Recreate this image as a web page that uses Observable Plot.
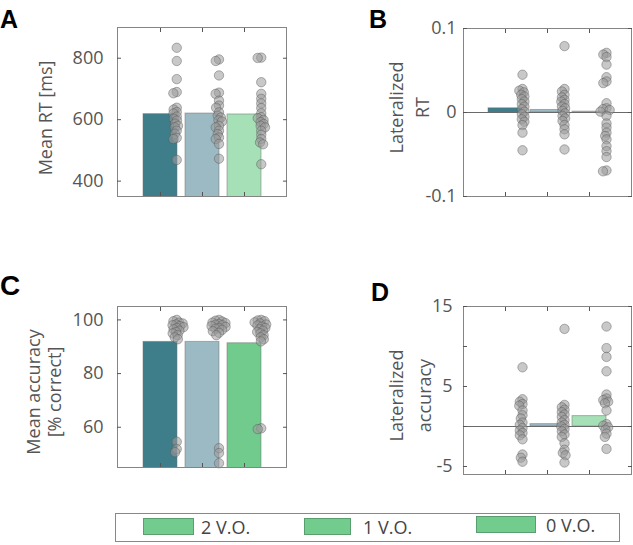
<!DOCTYPE html>
<html><head><meta charset="utf-8">
<script src="https://cdn.jsdelivr.net/npm/d3@7"></script>
<script src="https://cdn.jsdelivr.net/npm/@observablehq/plot@0.6"></script>
<style>
body{margin:0;background:#fff;font-family:"Open Sans",sans-serif;}
#fig{position:relative;width:633px;height:545px;overflow:hidden;background:#fff;}
.panel{position:absolute;}
.letter{position:absolute;font-family:"Liberation Sans",Arial,sans-serif;font-weight:bold;font-size:25px;line-height:1;color:#000;}
#legend{position:absolute;left:115px;top:513px;width:505px;height:29px;border:1px solid #888;box-sizing:border-box;}
.sw{position:absolute;height:17px;background:#72cc8e;border:1px solid #5a9e70;box-sizing:border-box;}
.lt{position:absolute;font-size:18px;color:#444;line-height:1;}
</style></head><body><div id="fig"></div>
<script>
const groups = ["2 V.O.", "1 V.O.", "0 V.O."];

// Panel A: mean RT [ms]
const rtMeans = [618, 620, 617];
const rt2VO = [834, 791, 732, 690, 686, 639, 633, 625, 620, 610, 603, 597, 587, 580, 575, 564, 554, 541, 537, 469];
const rt1VO = [796, 791, 744, 688, 684, 662, 646, 639, 624, 613, 607, 598, 594, 580, 575, 564, 553, 542, 537, 521, 473];
const rt0VO = [802, 801, 722, 684, 668, 653, 638, 621, 608, 605, 599, 592, 586, 580, 575, 564, 551, 537, 526, 520, 455];
const rtTicks = [400, 600, 800];

// Panel B: lateralized RT
const latRTMeans = [0.005, 0.003, 0.001];
const latRT2VO = [0.045, 0.028, 0.026, 0.024, 0.021, 0.019, 0.016, 0.013, 0.010, 0.007, 0.004, 0.001, -0.002, -0.005, -0.008, -0.011, -0.015, -0.024, -0.045];
const latRT1VO = [0.079, 0.028, 0.025, 0.021, 0.018, 0.015, 0.013, 0.010, 0.007, 0.005, 0.002, -0.001, -0.004, -0.007, -0.010, -0.015, -0.020, -0.026, -0.044];
const latRT0VO = [0.071, 0.069, 0.066, 0.057, 0.042, 0.037, 0.035, 0.011, 0.005, 0.004, 0.003, 0.001, -0.004, -0.013, -0.018, -0.024, -0.028, -0.032, -0.040, -0.046, -0.053, -0.069, -0.070];
const latRTTicks = [-0.1, 0, 0.1];

// Panel C: mean accuracy [% correct]
const accMeans = [91.8, 91.8, 91.3];
const acc2VO = [100, 99.5, 99, 98.7, 98.3, 98, 97.7, 97.3, 97, 96.5, 96, 95.5, 95, 94.3, 93.5, 92.8, 54.6, 51.9, 50.7];
const acc1VO = [100, 99.7, 99.4, 99, 98.8, 98.5, 98.2, 98, 97.7, 97.4, 97, 96.7, 96.3, 95.8, 95.2, 94.3, 52.2, 50.4, 46.6];
const acc0VO = [100, 99.8, 99.5, 99.1, 98.7, 98.3, 97.9, 97.5, 97, 96.5, 96, 95.5, 95, 94.3, 93.5, 92.8, 92, 59.6, 59.3];
const accTicks = [60, 80, 100];

// Panel D: lateralized accuracy
const latAccMeans = [0, 0.3, 1.3];
const latAcc2VO = [7.4, 3.4, 3.1, 2.8, 2.6, 2.0, 1.4, 1.0, 0.5, 0.2, -0.2, -0.5, -0.8, -1.1, -1.6, -3.5, -3.9, -4.4];
const latAcc1VO = [12.2, 2.7, 2.4, 2.1, 1.8, 1.5, 1.2, 0.8, 0.5, 0.2, 0.0, -0.3, -0.6, -1.0, -1.3, -2.1, -2.9, -3.3, -3.6, -4.5];
const latAcc0VO = [12.5, 9.8, 8.7, 6.9, 4.0, 3.5, 3.3, 3.1, 2.9, 2.0, 0.3, 0.1, -0.1, -0.4, -0.9, -1.3, -2.8];
const latAccTicks = [-5, 0, 5, 10, 15];
const latAccTickLabels = [-5, 5, 15];

const legendLabels = ["2 V.O.", "1 V.O.", "0 V.O."];

const TEAL = "#3e7e8b", BLUEGREY = "#9bbac4", LIGHTGREEN = "#a6e0b6", GREEN = "#70cb8d";

function panel(o) {
  const {w, h, ml, mr, mt, mb} = o;
  const xs = Plot.scale({x: {type: "band", domain: groups, paddingInner: 0.2, paddingOuter: 0.6, range: [ml, w - mr]}});
  const mid = (ml + w - mr) / 2;
  const bars = groups.map((g, i) => ({g, v: o.means[i], fill: o.fills[i]}));
  const fmt = d => (o.labels.includes(d) ? String(d) : "");
  const marks = [
    Plot.barY(bars, {x: "g", y: "v", fill: "fill", stroke: "#6f6f6f", strokeOpacity: 0.5, strokeWidth: 1, clip: true}),
  ];
  if (o.zero) marks.push(Plot.ruleY([0], {stroke: "#6a6a6a", strokeWidth: 1.2}));
  o.points.forEach((vals, i) => {
    marks.push(Plot.dot(vals, Plot.dodgeX({anchor: "middle", padding: 0, r: 1.8}, {
      y: d => d, r: 4.7,
      dx: xs.apply(groups[i]) + xs.bandwidth / 2 - mid,
      fill: "#9a9a9a", fillOpacity: 0.55, stroke: "#555", strokeOpacity: 0.55, strokeWidth: 0.8
    })));
  });
  marks.push(
    Plot.frame({stroke: "#858585"}),
    Plot.axisY({anchor: "left", ticks: o.ticks, tickSize: -4, tickPadding: o.gap + 4, tickFormat: fmt, fontSize: 18, color: "#555", label: null}),
    Plot.axisY({anchor: "right", ticks: o.ticks, tickSize: -4, tickFormat: () => "", color: "#555", label: null}),
    Plot.axisX({anchor: "bottom", tickSize: -4, tickFormat: () => "", color: "#555", label: null}),
    Plot.axisX({anchor: "top", tickSize: -4, tickFormat: () => "", color: "#555", label: null}),
    Plot.text([o.title], {frameAnchor: "left", textAnchor: "middle", lineAnchor: "middle", rotate: -90, dx: o.ldx, dy: o.ldy, fontSize: 18, fill: "#555", lineHeight: o.lh, text: d => d})
  );
  const svg = Plot.plot({
    width: w, height: h, marginLeft: ml, marginRight: mr, marginTop: mt, marginBottom: mb,
    style: {fontFamily: "'Open Sans', sans-serif", background: "transparent", overflow: "visible"},
    x: {type: "band", domain: groups, paddingInner: 0.2, paddingOuter: 0.6},
    y: {domain: o.domain},
    color: {type: "identity"},
    marks
  });
  const div = document.createElement("div");
  div.className = "panel";
  div.style.left = o.left + "px";
  div.style.top = o.top + "px";
  div.appendChild(svg);
  document.getElementById("fig").appendChild(div);
}

panel({left: 0, top: 0, w: 316, h: 206, ml: 117, mr: 30, mt: 27, mb: 10,
  domain: [350, 900], ticks: rtTicks, labels: rtTicks, gap: 14,
  means: rtMeans, fills: [TEAL, BLUEGREY, LIGHTGREEN], points: [rt2VO, rt1VO, rt0VO],
  title: "Mean RT [ms]", ldx: -72, ldy: 6, lh: 1.2});

panel({left: 316, top: 0, w: 317, h: 206, ml: 147, mr: 2, mt: 28, mb: 10,
  domain: [-0.1, 0.1], ticks: latRTTicks, labels: latRTTicks, gap: 7, zero: true,
  means: latRTMeans, fills: [TEAL, BLUEGREY, LIGHTGREEN], points: [latRT2VO, latRT1VO, latRT0VO],
  title: "Lateralized\nRT", ldx: -56, ldy: -5, lh: 1.45});

panel({left: 0, top: 230, w: 316, h: 250, ml: 117, mr: 30, mt: 76, mb: 13,
  domain: [45, 105], ticks: accTicks, labels: accTicks, gap: 14,
  means: accMeans, fills: [TEAL, BLUEGREY, GREEN], points: [acc2VO, acc1VO, acc0VO],
  title: "Mean accuracy\n[% correct]", ldx: -74, ldy: 5, lh: 1.2});

panel({left: 316, top: 230, w: 317, h: 250, ml: 147, mr: 2, mt: 76, mb: 6,
  domain: [-6, 15], ticks: latAccTicks, labels: latAccTickLabels, gap: 11, zero: true,
  means: latAccMeans, fills: [TEAL, BLUEGREY, LIGHTGREEN], points: [latAcc2VO, latAcc1VO, latAcc0VO],
  title: "Lateralized\naccuracy", ldx: -55, ldy: 5, lh: 1.55});

// panel letters
const fig = document.getElementById("fig");
[["A", 0, 7, 25], ["B", 369, 7, 25], ["C", 0, 272, 28], ["D", 371, 280, 25]].forEach(([t, x, y, fs]) => {
  const d = document.createElement("div");
  d.className = "letter"; d.textContent = t;
  d.style.left = x + "px"; d.style.top = y + "px"; d.style.fontSize = fs + "px";
  fig.appendChild(d);
});

// legend
const lg = document.createElement("div");
lg.id = "legend";
fig.appendChild(lg);
const swX = [27, 188, 360], swW = [51, 47, 60], txX = [85, 247, 430];
legendLabels.forEach((t, i) => {
  const s = document.createElement("div");
  s.className = "sw"; s.style.left = swX[i] + "px"; s.style.top = (i === 2 ? 2 : 4) + "px"; s.style.width = swW[i] + "px";
  lg.appendChild(s);
  const l = document.createElement("div");
  l.className = "lt"; l.textContent = t; l.style.left = txX[i] + "px"; l.style.top = (i === 2 ? 2 : 4) + "px";
  lg.appendChild(l);
});
</script></body></html>
